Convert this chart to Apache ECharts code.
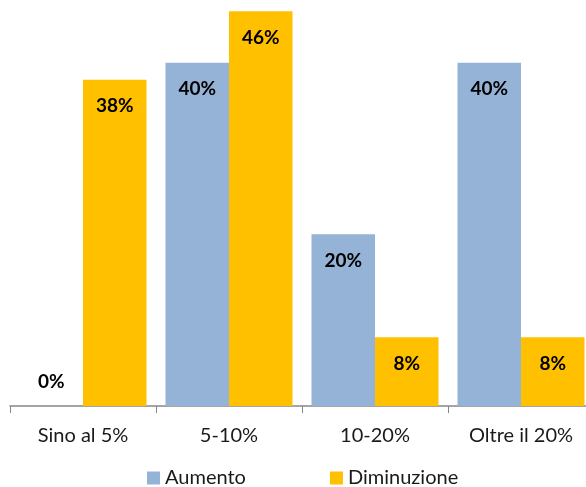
<!DOCTYPE html>
<html>
<head>
<meta charset="utf-8">
<script src="https://cdn.jsdelivr.net/npm/echarts@6/dist/echarts.min.js"></script>
<style>
  html, body { margin: 0; padding: 0; background: #ffffff; }
  #chart { width: 586px; height: 487px; }
</style>
</head>
<body>
<div id="chart"></div>
<script>
// Quota di risposte per fascia di variazione
const categories = ['Sino al 5%', '5-10%', '10-20%', 'Oltre il 20%'];
const aumento = [0, 40, 20, 40];
const diminuzione = [38, 46, 8, 8];
const seriesNames = ['Aumento', 'Diminuzione'];

const FONT = 'Lato, "Noto Sans", sans-serif';

// Value labels sit inside the top of each bar; a zero bar gets its label above the baseline
function withLabels(values) {
  return values.map(v => {
    if (v === 0) {
      return { value: v, label: { position: 'top', distance: 15 } };
    }
    return v;
  });
}

const chart = echarts.init(document.getElementById('chart'), null, { renderer: 'canvas' });

const barLabel = {
  show: true,
  position: 'insideTop',
  distance: 17,
  formatter: '{c}%',
  color: '#000000',
  fontFamily: FONT,
  fontWeight: 'bold',
  fontSize: 19
};

chart.setOption({
  animation: false,
  backgroundColor: '#ffffff',
  // the plot runs slightly past the right edge of the canvas
  grid: {
    left: 10, top: 0, right: -8, bottom: 81,
    containLabel: false,
    outerBoundsMode: 'none'
  },
  xAxis: {
    type: 'category',
    data: categories,
    axisLine: { show: true, lineStyle: { color: '#878787', width: 1.5 } },
    axisTick: { show: true, length: 7, lineStyle: { color: '#878787', width: 1 } },
    axisLabel: { margin: 20, color: '#1a1a1a', fontFamily: FONT, fontSize: 20 }
  },
  yAxis: {
    type: 'value',
    min: 0,
    max: 47.3,
    show: false,
    splitLine: { show: false }
  },
  legend: {
    left: 147,
    top: 468,
    padding: 0,
    itemWidth: 13,
    itemHeight: 13,
    itemGap: 84,
    icon: 'rect',
    textStyle: { color: '#1a1a1a', fontFamily: FONT, fontSize: 20 },
    data: seriesNames
  },
  series: [
    {
      name: seriesNames[0],
      type: 'bar',
      data: withLabels(aumento),
      barWidth: '43.5%',
      barGap: '0%',
      itemStyle: { color: '#95B3D7' },
      label: barLabel
    },
    {
      name: seriesNames[1],
      type: 'bar',
      data: withLabels(diminuzione),
      barWidth: '43.5%',
      barGap: '0%',
      itemStyle: { color: '#FFC000' },
      label: barLabel
    }
  ]
});
</script>
</body>
</html>
